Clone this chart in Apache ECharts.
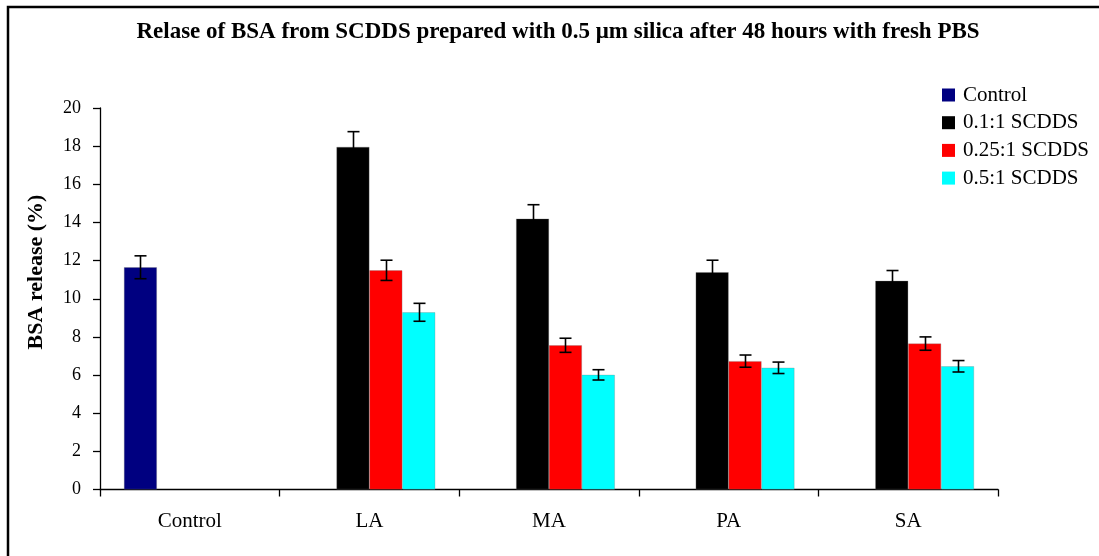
<!DOCTYPE html>
<html>
<head>
<meta charset="utf-8">
<script src="https://cdn.jsdelivr.net/npm/echarts@6/dist/echarts.min.js"></script>
<style>
html,body{margin:0;padding:0;background:#fff;}
#chart{width:1099px;height:556px;}
</style>
</head>
<body>
<div id="chart"></div>
<script>
var categories = ['Control', 'LA', 'MA', 'PA', 'SA'];
var seriesNames = ['Control', '0.1:1 SCDDS', '0.25:1 SCDDS', '0.5:1 SCDDS'];
var controlValues = [11.65, null, null, null, null];
var ratio01Values = [null, 17.96, 14.2, 11.39, 10.94];
var ratio025Values = [null, 11.49, 7.56, 6.73, 7.65];
var ratio05Values = [null, 9.29, 6.01, 6.38, 6.46];
var controlErrors = [0.6, null, null, null, null];
var ratio01Errors = [null, 0.8, 0.73, 0.63, 0.54];
var ratio025Errors = [null, 0.53, 0.37, 0.32, 0.35];
var ratio05Errors = [null, 0.47, 0.27, 0.3, 0.3];
var yTicks = [0, 2, 4, 6, 8, 10, 12, 14, 16, 18, 20];
var colors = ['#000080', '#000000', '#ff0000', '#00ffff'];

var allValues = [controlValues, ratio01Values, ratio025Values, ratio05Values];
var allErrors = [controlErrors, ratio01Errors, ratio025Errors, ratio05Errors];
var GAP = 0.267;
var FONT = '"Liberation Serif", "Times New Roman", serif';

var errData = [];
allValues.forEach(function (vals, s) {
  vals.forEach(function (v, i) {
    if (v != null && allErrors[s][i] != null) errData.push([i, v, allErrors[s][i], s]);
  });
});

var series = allValues.map(function (vals, s) {
  return {
    name: seriesNames[s],
    type: 'bar',
    data: vals,
    barCategoryGap: (GAP * 100) + '%',
    barGap: '0%',
    itemStyle: { color: colors[s], borderColor: 'rgba(120,120,120,0.6)', borderWidth: 0.5 },
    emphasis: { disabled: true },
    animation: false
  };
});

series.push({
  type: 'custom',
  name: 'err',
  z: 10,
  animation: false,
  data: errData,
  encode: { x: 0, y: 1 },
  renderItem: function (params, api) {
    var xi = api.value(0), v = api.value(1), e = api.value(2), s = api.value(3);
    var band = api.size([1, 0])[0];
    var bw = band * (1 - GAP) / 4;
    var c = api.coord([xi, v]);
    var x = Math.round(c[0] + (s - 1.5) * bw) + 0.5;
    var t = api.coord([xi, v + e])[1];
    var b = api.coord([xi, v - e])[1];
    var hw = 6;
    var st = { stroke: '#000', lineWidth: 1.6 };
    return {
      type: 'group',
      children: [
        { type: 'line', shape: { x1: x, y1: t, x2: x, y2: b }, style: st },
        { type: 'line', shape: { x1: x - hw, y1: t, x2: x + hw, y2: t }, style: st },
        { type: 'line', shape: { x1: x - hw, y1: b, x2: x + hw, y2: b }, style: st }
      ]
    };
  }
});

var chart = echarts.init(document.getElementById('chart'), null, { renderer: 'canvas' });
chart.setOption({
  backgroundColor: '#fff',
  animation: false,
  title: {
    text: 'Relase of BSA from SCDDS prepared with 0.5 \u03bcm silica after 48 hours with fresh PBS',
    left: 553, textAlign: 'center',
    top: 16,
    textStyle: { fontFamily: FONT, fontWeight: 'bold', fontSize: 23, color: '#000' }
  },
  legend: {
    orient: 'vertical',
    left: 937,
    top: 79.5,
    itemWidth: 13,
    itemHeight: 13,
    itemGap: 6.7,
    icon: 'rect',
    data: seriesNames,
    itemStyle: { borderWidth: 0 },
    textStyle: { fontFamily: FONT, fontSize: 21, color: '#000', lineHeight: 21, padding: [0, 0, 0, 3] }
  },
  grid: { left: 100, right: 101, top: 108, bottom: 66.5, containLabel: false },
  xAxis: {
    type: 'category',
    data: categories,
    axisLine: { lineStyle: { color: '#000', width: 1.3 } },
    axisTick: { show: true, length: 7, lineStyle: { color: '#000', width: 1.3 } },
    axisLabel: { fontFamily: FONT, fontSize: 21, color: '#000', margin: 21 }
  },
  yAxis: {
    type: 'value',
    min: yTicks[0],
    max: yTicks[yTicks.length - 1],
    interval: yTicks[1] - yTicks[0],
    splitLine: { show: false },
    axisLine: { show: true, lineStyle: { color: '#000', width: 1.3 } },
    axisTick: { show: true, length: 7, lineStyle: { color: '#000', width: 1.3 } },
    axisLabel: { fontFamily: FONT, fontSize: 18, color: '#000', margin: 19 }
  },
  graphic: [
    {
      type: 'rect',
      shape: { x: 8, y: 7, width: 1200, height: 700 },
      style: { fill: 'none', stroke: '#000', lineWidth: 2.5 },
      silent: true
    },
    {
      type: 'text',
      x: 36, y: 272,
      rotation: Math.PI / 2,
      style: {
        text: 'BSA release (%)',
        fontFamily: FONT, fontWeight: 'bold', fontSize: 22, fill: '#000',
        align: 'center', verticalAlign: 'middle'
      }
    }
  ],
  series: series
});
</script>
</body>
</html>
